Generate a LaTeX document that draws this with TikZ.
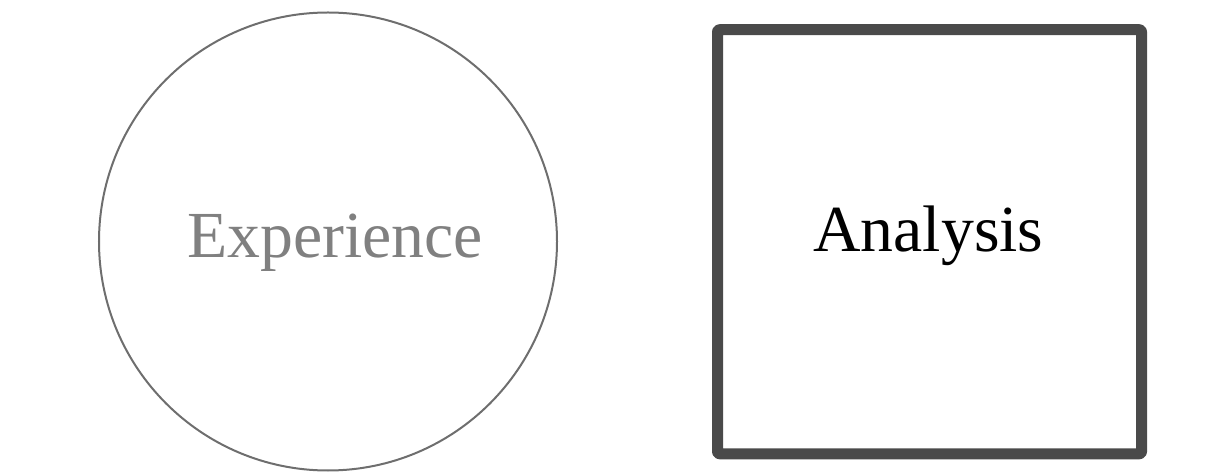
\documentclass[tikz,border=0pt]{standalone}
\usepackage{fontspec}
\setmainfont{Liberation Serif}
\definecolor{circgray}{HTML}{6E6E6E}
\definecolor{txtgray}{HTML}{808080}
\definecolor{boxgray}{HTML}{4A4A4A}
\begin{document}
\begin{tikzpicture}[x=1bp,y=-1bp,
  ringshape/.style={circle,draw=circgray,line width=2bp,minimum size=458bp,inner sep=0pt},
  boxshape/.style={rectangle,draw=boxgray,line width=11bp,line join=round,rounded corners=2bp,minimum width=424bp,minimum height=424bp,inner sep=0pt},
  lbl/.style={anchor=base,inner sep=0pt,font=\fontsize{66}{70}\selectfont}
]
\useasboundingbox (0,0) rectangle (1224,474);
\node[ringshape] (exp) at (328,241.5) {};
\node[boxshape] (ana) at (929.5,241.75) {};
\node[lbl,text=txtgray] (exptext) at (335,258) {Experience};
\node[lbl,text=black] (anatext) at (928.5,252) {Analysis};
\end{tikzpicture}
\end{document}
